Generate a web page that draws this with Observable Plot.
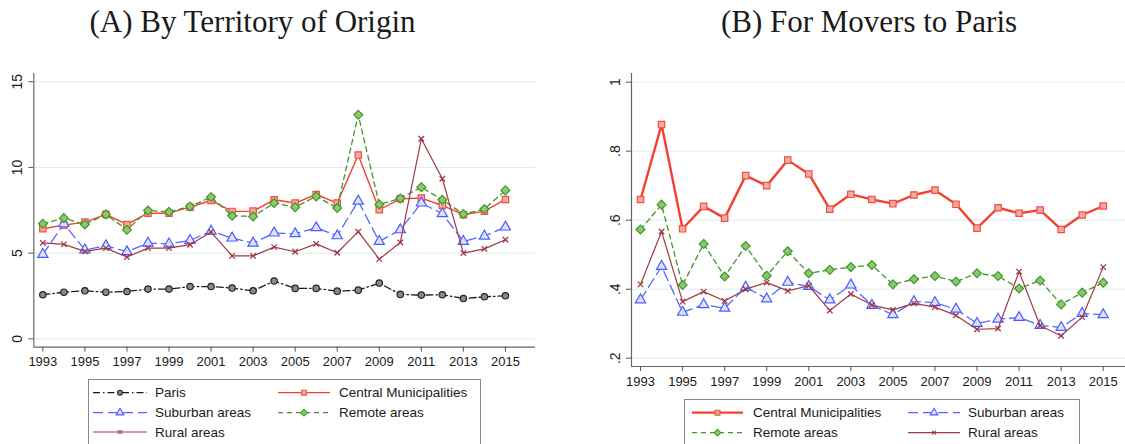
<!DOCTYPE html>
<html><head><meta charset="utf-8">
<script src="https://cdn.jsdelivr.net/npm/d3@7"></script>
<script src="https://cdn.jsdelivr.net/npm/@observablehq/plot@0.6"></script>
<style>
body{margin:0;background:#fff;}
#wrap{position:relative;width:1125px;height:444px;overflow:hidden;background:#fff;font-family:"Liberation Sans",Arial,sans-serif;}
.title{position:absolute;top:6px;font-family:"Liberation Serif","DejaVu Serif",serif;font-size:31px;line-height:31px;color:#1a1a1a;white-space:nowrap;transform:translateX(-50%);}
.panel{position:absolute;top:0;}
#legends{position:absolute;left:0;top:0;}
</style></head>
<body><div id="wrap"></div>
<script>
// ---------------- data ----------------
const years = [1993,1994,1995,1996,1997,1998,1999,2000,2001,2002,2003,2004,2005,2006,2007,2008,2009,2010,2011,2012,2013,2014,2015];
const xTickYears = [1993,1995,1997,1999,2001,2003,2005,2007,2009,2011,2013,2015];

// Panel A: By territory of origin
const parisA    = [2.57,2.72,2.80,2.72,2.76,2.90,2.90,3.05,3.05,2.96,2.80,3.37,2.94,2.94,2.78,2.84,3.25,2.59,2.55,2.57,2.35,2.45,2.51];
const centralA  = [6.42,6.63,6.81,7.26,6.67,7.33,7.33,7.68,8.07,7.43,7.45,8.11,7.92,8.42,7.92,10.72,7.53,8.17,8.21,7.78,7.24,7.45,8.13];
const suburbanA = [4.92,6.71,5.19,5.43,5.08,5.58,5.54,5.74,6.28,5.88,5.58,6.17,6.13,6.48,6.01,8.03,5.68,6.36,7.92,7.30,5.68,5.99,6.52];
const remoteA   = [6.71,7.04,6.67,7.26,6.36,7.49,7.41,7.72,8.27,7.18,7.14,7.92,7.68,8.31,7.63,13.07,7.84,8.19,8.85,8.11,7.28,7.57,8.66];
const ruralA    = [5.60,5.51,5.10,5.29,4.77,5.29,5.29,5.49,6.23,4.84,4.84,5.35,5.08,5.54,5.02,6.25,4.65,5.62,11.67,9.34,5.00,5.25,5.78];
const yTicksA = [0,5,10,15];

// Panel B: For movers to Paris
const centralB  = [0.660,0.877,0.575,0.640,0.606,0.729,0.700,0.774,0.734,0.632,0.675,0.660,0.648,0.673,0.687,0.646,0.577,0.636,0.620,0.629,0.573,0.615,0.641];
const suburbanB = [0.369,0.466,0.333,0.355,0.345,0.406,0.372,0.420,0.408,0.369,0.412,0.353,0.326,0.364,0.361,0.342,0.301,0.313,0.318,0.295,0.289,0.330,0.326];
const remoteB   = [0.573,0.645,0.412,0.531,0.437,0.525,0.439,0.510,0.446,0.456,0.464,0.470,0.414,0.429,0.438,0.422,0.446,0.438,0.402,0.425,0.356,0.390,0.419];
const ruralB    = [0.414,0.567,0.364,0.393,0.366,0.400,0.419,0.395,0.410,0.338,0.386,0.354,0.340,0.359,0.348,0.324,0.284,0.286,0.451,0.294,0.265,0.319,0.464];
const yTicksB = [0.2,0.4,0.6,0.8,1];

const titleA = "(A) By Territory of Origin";
const titleB = "(B) For Movers to Paris";

// ---------------- styles ----------------
const styles = {
  "Paris":                  {stroke:"#1a1a1a", dash:"7,3,1.5,3", symbol:"circle",   d3sym:d3.symbolCircle,   fill:"#8a8a8a", mstroke:"#222",    r:3.2, w:1.3},
  "Central Municipalities": {stroke:"#f2412f", dash:null,        symbol:"square",   d3sym:d3.symbolSquare,   fill:"#f5aaa6", mstroke:"#f2503f", r:3.6, w:1.4},
  "Suburban areas":         {stroke:"#5566ff", dash:"10,5",      symbol:"triangle", d3sym:d3.symbolTriangle, fill:"#dfe2ff", mstroke:"#4a5cff", r:3.8, w:1.3},
  "Remote areas":           {stroke:"#3f962a", dash:"5,4",       symbol:"diamond2", d3sym:d3.symbolDiamond2, fill:"#8cc86c", mstroke:"#3f962a", r:4.0, w:1.3},
  "Rural areas":            {stroke:"#9e3a45", dash:null,        symbol:"times",    d3sym:d3.symbolTimes,    fill:"none",    mstroke:"#9e3a45", r:2.6, w:1.2}
};

function rows(vals){ return years.map((y,i)=>({year:y, value:vals[i]})); }

function seriesMarks(name, vals, wScale){
  const s = styles[name];
  const data = rows(vals);
  const w = s.w*(wScale||1);
  const marks = [Plot.line(data, {x:"year", y:"value", stroke:s.stroke, strokeWidth:w, strokeDasharray:s.dash||undefined, curve:"linear"})];
  if (s.symbol === "times") {
    marks.push(Plot.dot(data, {x:"year", y:"value", symbol:"times", r:s.r, stroke:s.mstroke, strokeWidth:1.3}));
  } else {
    marks.push(Plot.dot(data, {x:"year", y:"value", symbol:s.symbol, r:s.r, fill:s.fill, stroke:s.mstroke, strokeWidth:1.2}));
  }
  return marks;
}

const fmtB = d => d===1 ? "1" : String(+d.toFixed(1)).replace(/^0\./,".");

function panel({width, height, mL, mR, mT, mB, xDom, yDom, yTicks, yFmt, series, lw}){
  return Plot.plot({
    width, height, marginLeft:mL, marginRight:mR, marginTop:mT, marginBottom:mB,
    x:{domain:xDom}, y:{domain:yDom},
    style:{fontFamily:"'Liberation Sans', Arial, sans-serif", fontSize:"13px", color:"#1a1a1a", background:"transparent", overflow:"visible"},
    marks:[
      Plot.gridY(yTicks, {stroke:"#dfeaec", strokeOpacity:1, strokeWidth:1}),
      Plot.ruleX([xDom[0]], {stroke:"#666", strokeWidth:1.2}),
      Plot.ruleY([yDom[0]], {stroke:"#666", strokeWidth:1.2}),
      Plot.axisX(xTickYears, {tickSize:5, tickPadding:5, stroke:"#555", tickFormat:d=>String(d), label:null, fontSize:13, fill:"#1a1a1a"}),
      Plot.axisY(yTicks, {tickSize:5, stroke:"#555", tickFormat:()=>"", label:null}),
      Plot.text(yTicks, {y:d=>d, frameAnchor:"left", dx:-12, rotate:-90, textAnchor:"middle", lineAnchor:"bottom", text:yFmt, fontSize:14, fill:"#1a1a1a"}),
      ...series.flatMap(([name, vals]) => seriesMarks(name, vals, name==="Central Municipalities" ? lw : 1))
    ]
  });
}

const wrap = document.getElementById("wrap");

const pA = panel({width:560, height:380, mL:33.3, mR:25, mT:73, mB:33.3,
  xDom:[1992.57, 2016.43], yDom:[-0.49, 15.48], yTicks:yTicksA, yFmt:d=>String(d),
  series:[["Paris",parisA],["Central Municipalities",centralA],["Suburban areas",suburbanA],["Remote areas",remoteA],["Rural areas",ruralA]], lw:1});
pA.classList.add("panel"); pA.style.left="0px";
wrap.appendChild(pA);

const pB = panel({width:565, height:380, mL:71, mR:0, mT:73, mB:14,
  xDom:[1992.57, 2016.06], yDom:[0.176, 1.025], yTicks:yTicksB, yFmt:fmtB,
  series:[["Remote areas",remoteB],["Suburban areas",suburbanB],["Rural areas",ruralB],["Central Municipalities",centralB]], lw:1.7});
pB.classList.add("panel"); pB.style.left="560px";
wrap.appendChild(pB);

// titles
[[titleA, 252.5],[titleB, 869]].forEach(([t,cx])=>{
  const d = document.createElement("div");
  d.className="title"; d.textContent=t; d.style.left=cx+"px";
  wrap.appendChild(d);
});

// legends
const svg = d3.select(wrap).append("svg").attr("id","legends").attr("width",1125).attr("height",444);
function legend(box, entries){
  svg.append("rect").attr("x",box.x+0.5).attr("y",box.y+0.5).attr("width",box.w).attr("height",box.h)
    .attr("fill","#fff").attr("stroke","#888").attr("stroke-width",1);
  entries.forEach(e=>{
    const s = styles[e.name];
    const g = svg.append("g");
    g.append("line").attr("x1",e.x1).attr("x2",e.x2).attr("y1",e.y).attr("y2",e.y)
      .attr("stroke",s.stroke).attr("stroke-width",e.lw||1.2).attr("stroke-dasharray",s.dash);
    const size = Math.PI*Math.pow(s.r*0.75,2);
    g.append("path").attr("d", d3.symbol().type(s.d3sym).size(size)())
      .attr("transform",`translate(${(e.x1+e.x2)/2},${e.y})`)
      .attr("fill", s.fill).attr("stroke", s.mstroke).attr("stroke-width",1.1);
    g.append("text").attr("x",e.tx).attr("y",e.y).attr("dy","0.35em")
      .attr("font-family","'Liberation Sans', Arial, sans-serif").attr("font-size",13.5).attr("fill","#1a1a1a")
      .text(e.name);
  });
}
legend({x:88,y:379,w:392,h:70},[
  {name:"Paris", x1:93, x2:147, tx:155, y:392.7},
  {name:"Central Municipalities", x1:278, x2:330, tx:339, y:392.7},
  {name:"Suburban areas", x1:93, x2:147, tx:155, y:412.7},
  {name:"Remote areas", x1:278, x2:330, tx:339, y:412.7},
  {name:"Rural areas", x1:93, x2:147, tx:155, y:432}
]);
legend({x:684,y:399,w:395,h:60},[
  {name:"Central Municipalities", x1:692, x2:743, tx:753, y:412.7, lw:2.2},
  {name:"Suburban areas", x1:908, x2:960, tx:968, y:412.7},
  {name:"Remote areas", x1:692, x2:743, tx:753, y:432.7},
  {name:"Rural areas", x1:908, x2:960, tx:968, y:432.7}
]);
</script>
</body></html>
